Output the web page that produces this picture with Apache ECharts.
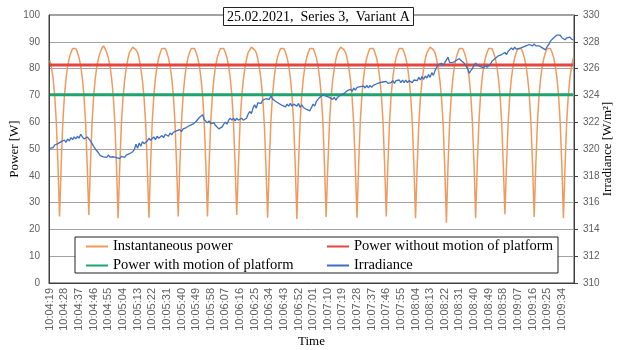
<!DOCTYPE html>
<html>
<head>
<meta charset="utf-8">
<script src="https://cdn.jsdelivr.net/npm/echarts@6/dist/echarts.min.js"></script>
<style>
  html, body { margin: 0; padding: 0; background: #fff; }
  #chart { width: 619px; height: 350px; }
</style>
</head>
<body>
<div id="chart"></div>
<script>
// Measurement run, one sample per second
const startTime = '10:04:19';
const sampleCount = 323;

// Instantaneous power [W]
const instantaneousPower = [
  83, 80.5, 76.5, 70, 60, 44,
  24.8, 44, 60, 70, 76.5, 81, 84, 86, 87.5, 88, 87.5, 86, 84, 81, 76.5, 70, 60, 44,
  25.4, 44, 60, 70, 76.5, 81, 84, 86, 87.5, 88.5, 87.5, 86, 84, 81, 76.5, 70, 60, 44,
  24.2, 43, 59, 69, 75.5, 80, 83.5, 86, 87, 88, 88, 87, 86, 83.5, 80, 75.5, 69, 59, 43,
  24.4, 44, 60, 70, 76.5, 81, 84, 86, 87.5, 88, 87.5, 86, 84, 81, 76.5, 70, 60, 44,
  24.8, 44, 60, 70, 76.5, 81, 84, 86, 87.5, 88, 87.5, 86, 84, 81, 76.5, 70, 60, 44,
  24.8, 44, 60, 70, 76.5, 81, 84, 86, 87.5, 88, 87.5, 86, 84, 81, 76.5, 70, 60, 44,
  25.4, 43, 59, 69, 75.5, 80, 83.5, 86, 87, 88, 88, 87, 86, 83.5, 80, 75.5, 69, 59, 43,
  24.4, 44, 60, 70, 76.5, 81, 84, 86, 87.5, 88, 87.5, 86, 84, 81, 76.5, 70, 60, 44,
  23.9, 44, 60, 70, 76.5, 81, 84, 86, 87.5, 88, 87.5, 86, 84, 81, 76.5, 70, 60, 44,
  24.6, 43, 59, 69, 75.5, 80, 83.5, 86, 87, 88, 88, 87, 86, 83.5, 80, 75.5, 69, 59, 43,
  24.4, 44, 60, 70, 76.5, 81, 84, 86, 87.5, 88, 87.5, 86, 84, 81, 76.5, 70, 60, 44,
  24.8, 44, 60, 70, 76.5, 81, 84, 86, 87.5, 88, 87.5, 86, 84, 81, 76.5, 70, 60, 44,
  24.2, 43, 59, 69, 75.5, 80, 83.5, 86, 87, 88, 88, 87, 86, 83.5, 80, 75.5, 69, 59, 43,
  22.5, 44, 60, 70, 76.5, 81, 84, 86, 87.5, 88, 87.5, 86, 84, 81, 76.5, 70, 60, 44,
  24.2, 44, 60, 70, 76.5, 81, 84, 86, 87.5, 88, 87.5, 86, 84, 81, 76.5, 70, 60, 44,
  25.7, 44, 60, 70, 76.5, 81, 84, 86, 87.5, 88, 87.5, 86, 84, 81, 76.5, 70, 60, 44,
  24.6, 44, 60, 70, 76.5, 81, 84, 86, 87.5, 88, 87.5, 86, 84, 81, 76.5, 70, 60, 44,
  24.2, 44, 60, 70, 76.5, 81, 84
];

// Mean power levels [W]
const powerWithoutMotion = 81.3;
const powerWithMotion = 70.2;

// Irradiance [W/m2]
const irradiance = [
  320.05, 320.15, 320.1, 320.3, 320.2, 320.4, 320.35, 320.55, 320.45, 320.67,
  320.5, 320.75, 320.6, 320.85, 320.7, 320.9, 320.75, 320.95, 320.8, 321.1,
  320.9, 320.75, 320.67, 320.9, 320.8, 320.6, 320.4, 320.2, 320.0, 319.85,
  319.7, 319.5, 319.62, 319.42, 319.55, 319.38, 319.55, 319.4, 319.52, 319.42,
  319.5, 319.35, 319.48, 319.28, 319.45, 319.52, 319.38, 319.55, 319.5, 319.65,
  319.6, 319.8, 319.95, 320.35, 320.05, 320.45, 320.2, 320.55, 320.4, 320.5,
  320.6, 320.8, 320.65, 320.6, 320.9, 320.7, 320.95, 320.8, 320.9, 321.0,
  320.85, 321.1, 321.0, 320.95, 321.2, 321.05, 321.25, 321.2, 321.35, 321.25,
  321.45, 321.3, 321.5, 321.4, 321.6, 321.5, 321.75, 321.65, 321.85, 321.9,
  322.05, 322.1, 322.35, 322.3, 322.55, 322.2, 322.15, 321.95, 322.1, 321.9,
  321.85, 321.95, 321.75, 321.75, 321.5, 321.4, 321.65, 321.85, 322.0, 321.85,
  322.15, 322.3, 322.15, 322.3, 322.1, 322.3, 322.15, 322.2, 322.3, 322.15,
  322.25, 322.3, 322.6, 322.8, 322.65, 323.05, 323.3, 323.05, 323.45, 323.5,
  323.4, 323.65, 323.6, 323.75, 323.8, 323.7, 323.95, 323.75, 323.7, 323.55,
  323.5, 323.4, 323.4, 323.25, 323.3, 323.15, 323.35, 323.2, 323.4, 323.2,
  323.35, 323.25, 323.2, 323.4, 323.1, 323.3, 323.1, 323.15, 322.95, 322.9,
  322.85, 323.1, 323.35, 323.2, 323.55, 323.6, 323.85, 323.9, 324.05, 324.1,
  323.95, 324.0, 323.85, 323.9, 323.7, 323.85, 323.65, 323.85, 323.9, 324.05,
  324.0, 324.15, 324.15, 324.35, 324.25, 324.45, 324.3, 324.55, 324.4, 324.6,
  324.55, 324.65, 324.55, 324.7, 324.55, 324.75, 324.55, 324.75, 324.6, 324.75,
  324.7, 324.85, 324.85, 324.95, 324.85, 325.0, 324.9, 325.05, 324.9, 325.0,
  324.95, 325.1, 324.9, 325.1, 325.05, 325.15, 324.95, 325.15, 324.95, 325.15,
  324.95, 325.1, 325.2, 324.95, 325.15, 325.25, 325.1, 325.35, 325.15, 325.4,
  325.2, 325.45, 325.3, 325.55, 325.35, 325.7, 325.5, 325.85, 326.1, 326.3,
  326.2, 326.4, 326.25, 326.45, 326.4, 326.85, 326.45, 326.5, 326.45, 326.35,
  326.6, 326.55, 326.75, 326.6, 326.55, 326.4, 326.4, 326.0, 325.65, 325.85,
  326.0, 326.25, 326.4, 326.25, 326.2, 326.15, 326.2, 326.05, 326.25, 326.1,
  326.2, 326.3, 326.55, 326.55, 326.75, 326.75, 326.95, 326.9, 327.05, 327.05,
  327.2, 327.05, 327.3, 327.25, 327.55, 327.4, 327.6, 327.45, 327.4, 327.5,
  327.45, 327.6, 327.55, 327.7, 327.65, 327.8, 327.75, 327.7, 327.85, 327.7,
  327.8, 327.7, 327.75, 327.55, 327.6, 327.4, 327.65, 327.8, 328.05, 328.1,
  328.3, 328.3, 328.5, 328.45, 328.5, 328.3, 328.25, 328.15, 328.3, 328.25,
  328.35, 328.2, 328.15
];

// Time-of-day categories, one per second
function buildTimes(start, n) {
  const [h, m, s] = start.split(':').map(Number);
  let t = h * 3600 + m * 60 + s;
  const out = [];
  for (let i = 0; i < n; i++, t++) {
    const hh = Math.floor(t / 3600);
    const mm = Math.floor((t % 3600) / 60);
    const ss = t % 60;
    out.push(hh + ':' + String(mm).padStart(2, '0') + ':' + String(ss).padStart(2, '0'));
  }
  return out;
}
const times = buildTimes(startTime, sampleCount);

const SERIF = 'Liberation Serif';
const SANS = 'Liberation Sans';
const tickGrey = '#5f5f5f';
const frame = '#404040';

const chart = echarts.init(document.getElementById('chart'), null, { renderer: 'canvas' });

const legendText = { fontFamily: SERIF, fontSize: 14.5, color: '#000', lineHeight: 14 };

chart.setOption({
  animation: false,
  backgroundColor: '#fff',
  title: {
    text: '25.02.2021,  Series 3,  Variant A',
    left: 223,
    top: 7,
    padding: [3, 4, 2, 4],
    backgroundColor: '#fff',
    borderColor: '#222',
    borderWidth: 1,
    z: 20,
    textStyle: { fontFamily: SERIF, fontSize: 14, fontWeight: 'normal', color: '#000' }
  },
  grid: {
    left: 49, right: 45, top: 15, bottom: 67,
    outerBoundsMode: 'none',
    containLabel: false,
    show: true, borderColor: frame, borderWidth: 1, backgroundColor: 'transparent'
  },
  graphic: {
    elements: [{
      type: 'rect',
      z: 8,
      shape: { x: 75, y: 237, width: 483, height: 36 },
      style: { fill: '#fff', stroke: '#222', lineWidth: 1 }
    }]
  },
  legend: [
    {
      orient: 'vertical', left: 86, top: 239, padding: 0, itemGap: 4, z: 10,
      icon: 'rect', itemWidth: 22, itemHeight: 2,
      textStyle: legendText,
      data: ['Instantaneous power', 'Power with motion of platform']
    },
    {
      orient: 'vertical', left: 327, top: 239, padding: 0, itemGap: 4, z: 10,
      icon: 'rect', itemWidth: 22, itemHeight: 2,
      textStyle: legendText,
      data: ['Power without motion of platform', 'Irradiance']
    }
  ],
  xAxis: {
    type: 'category',
    data: times,
    boundaryGap: true,
    name: 'Time',
    nameLocation: 'middle',
    nameGap: 52,
    nameMoveOverlap: false,
    nameTextStyle: { fontFamily: SERIF, fontSize: 13, color: '#000' },
    axisLine: { lineStyle: { color: frame, width: 1 } },
    axisTick: { show: false },
    axisLabel: {
      interval: 8, rotate: 90, margin: 5,
      fontFamily: SANS, fontSize: 11, color: tickGrey
    },
    splitLine: { show: false }
  },
  yAxis: [
    {
      type: 'value', min: 0, max: 100, interval: 10,
      name: 'Power [W]',
      nameLocation: 'middle', nameRotate: 90, nameGap: 28,
      nameMoveOverlap: false,
      nameTextStyle: { fontFamily: SERIF, fontSize: 13, color: '#000' },
      axisLine: { show: true, lineStyle: { color: frame, width: 1 } },
      axisTick: { show: false },
      axisLabel: { margin: 9, fontFamily: SANS, fontSize: 10, color: tickGrey },
      splitLine: { show: true, lineStyle: { color: '#a3a3a3', width: 1 } }
    },
    {
      type: 'value', min: 310, max: 330, interval: 2,
      name: 'Irradiance [W/m²]',
      nameLocation: 'middle', nameRotate: 90, nameGap: 27,
      nameMoveOverlap: false,
      nameTextStyle: { fontFamily: SERIF, fontSize: 13, color: '#000' },
      axisLine: { show: true, lineStyle: { color: frame, width: 1 } },
      axisTick: { show: true, inside: false, length: 4, lineStyle: { color: frame } },
      axisLabel: { margin: 9, fontFamily: SANS, fontSize: 10, color: tickGrey },
      splitLine: { show: false }
    }
  ],
  series: [
    {
      name: 'Instantaneous power',
      type: 'line', yAxisIndex: 0,
      data: instantaneousPower,
      showSymbol: false, smooth: false, z: 2,
      lineStyle: { color: '#f29a5e', width: 1.5 },
      itemStyle: { color: '#f29a5e' }
    },
    {
      name: 'Power without motion of platform',
      type: 'line', yAxisIndex: 0,
      data: times.map(() => powerWithoutMotion),
      showSymbol: false, z: 3,
      lineStyle: { color: '#e2463f', width: 3 },
      itemStyle: { color: '#e2463f' }
    },
    {
      name: 'Power with motion of platform',
      type: 'line', yAxisIndex: 0,
      data: times.map(() => powerWithMotion),
      showSymbol: false, z: 3,
      lineStyle: { color: '#1fa46e', width: 3 },
      itemStyle: { color: '#1fa46e' }
    },
    {
      name: 'Irradiance',
      type: 'line', yAxisIndex: 1,
      data: irradiance,
      showSymbol: false, z: 4,
      lineStyle: { color: '#3d6fc0', width: 1.3 },
      itemStyle: { color: '#3d6fc0' }
    }
  ]
});
</script>
</body>
</html>
